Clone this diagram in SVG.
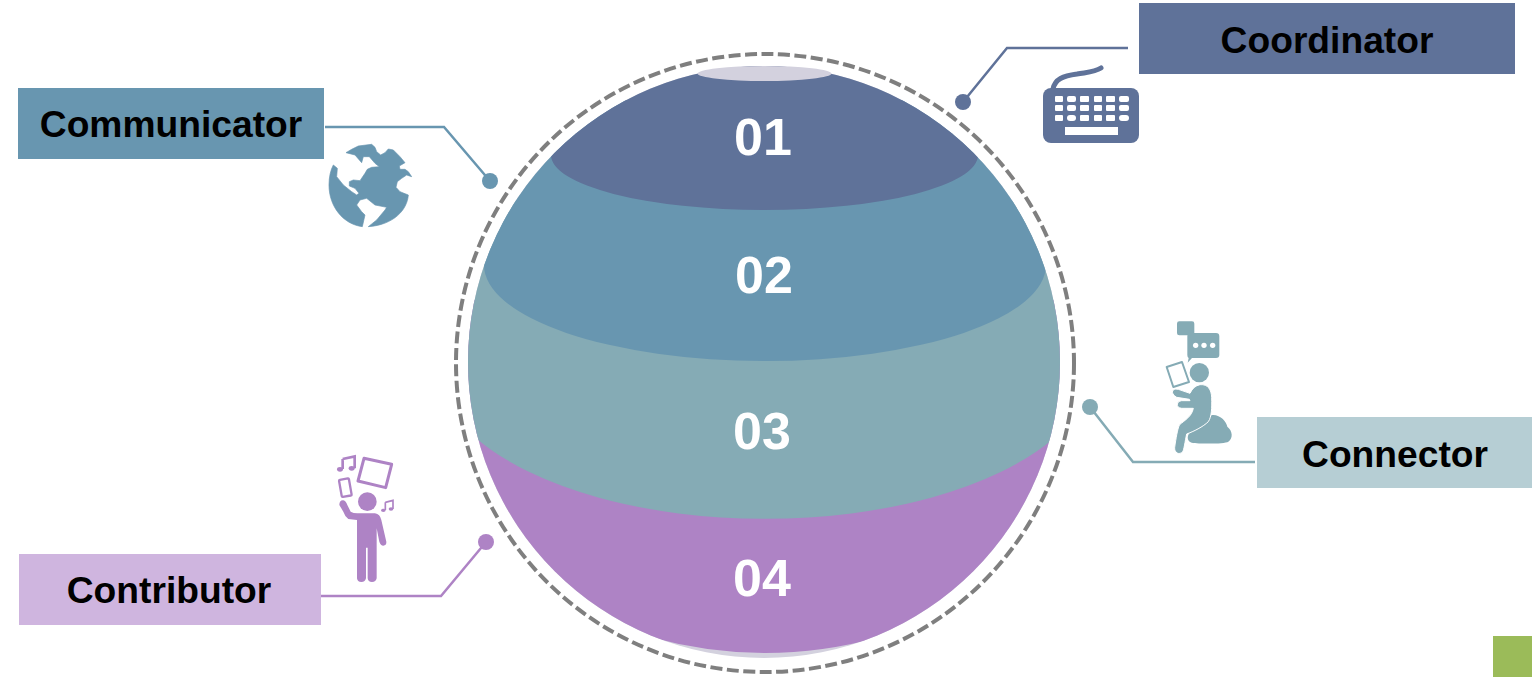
<svg xmlns="http://www.w3.org/2000/svg" width="1532" height="677" viewBox="0 0 1532 677">
<style>
.lbl{font-family:"Liberation Sans",Arial,sans-serif;font-weight:700;font-size:37.200px;fill:#000;text-anchor:middle}
.num{font-family:"Liberation Sans",Arial,sans-serif;font-weight:700;font-size:52px;fill:#fff;text-anchor:middle}
.ln{fill:none;stroke-width:2.500}
.navy{fill:#5f7299}.blue{fill:#6896b0}.teal{fill:#85abb5}.purple{fill:#ae83c5}
.w{fill:#fff}
</style>
<defs><clipPath id="sphere"><circle cx="764" cy="362" r="296"/></clipPath></defs>
<rect width="1532" height="677" fill="#fff"/>
<g id="sphere-body">
<circle cx="764" cy="362" r="296" fill="#d3d1de"/>
<g clip-path="url(#sphere)">
<path class="purple" d="M400,300H1100V637H880Q765,669 650,637H400Z"/>
<path class="teal" d="M400,200H1100V439H1053A330,156 0 0 1 477,439H400Z"/>
<path class="blue" d="M400,100H1100V265H1046A281,96 0 0 1 484,265H400Z"/>
<path class="navy" d="M540,40H990V155H978A213.500,55 0 0 1 551,155H540Z"/>
</g>
<ellipse cx="764.500" cy="73.500" rx="67" ry="7.500" fill="#d3d1de"/>
</g>
<circle id="ring" cx="765" cy="363" r="309" fill="none" stroke="#7f7f7f" stroke-width="4" stroke-dasharray="12 4.500"/>
<g id="connectors">
<path class="ln" stroke="#5f7299" d="M1128,48H1007L963,102"/><circle class="navy" cx="963" cy="102" r="8"/>
<path class="ln" stroke="#6896b0" d="M325,127H444L490,181"/><circle class="blue" cx="490" cy="181" r="8"/>
<path class="ln" stroke="#85abb5" d="M1090,407L1133,462H1255"/><circle class="teal" cx="1090" cy="407" r="8"/>
<path class="ln" stroke="#ae83c5" d="M486,542L441,596H321"/><circle class="purple" cx="486" cy="542" r="8"/>
</g>
<g id="layer-numbers">
<text class="num" x="763" y="155">01</text>
<text class="num" x="764" y="293">02</text>
<text class="num" x="762" y="449">03</text>
<text class="num" x="762" y="596">04</text>
</g>
<g id="coordinator">
<rect class="navy" x="1139" y="3" width="376" height="71"/>
<text class="lbl" x="1327" y="53">Coordinator</text>
<g id="keyboard-icon">
<path d="M1053,89C1055,79 1063,76 1077,74C1089,72 1095,72 1101,68" fill="none" stroke="#5f7299" stroke-width="5" stroke-linecap="round"/>
<rect class="navy" x="1043" y="88" width="96" height="55" rx="8"/>
<g class="w">
<rect x="1055" y="96" width="8" height="6" rx="1"/><rect x="1067" y="96" width="9" height="6" rx="2"/><rect x="1080" y="96" width="9" height="6" rx="1"/><rect x="1094" y="96" width="8" height="6" rx="1"/><rect x="1106" y="96" width="9" height="6" rx="1"/><rect x="1119" y="96" width="10" height="6" rx="2"/>
<rect x="1055" y="105" width="8" height="6" rx="1"/><rect x="1067" y="105" width="9" height="6" rx="2"/><rect x="1080" y="105" width="9" height="6" rx="1"/><rect x="1094" y="105" width="8" height="6" rx="1"/><rect x="1106" y="105" width="9" height="6" rx="1"/><rect x="1119" y="105" width="10" height="6" rx="2"/>
<rect x="1055" y="115" width="8" height="6" rx="1"/><rect x="1067" y="115" width="9" height="6" rx="3"/><rect x="1080" y="115" width="9" height="6" rx="1"/><rect x="1094" y="115" width="8" height="6" rx="1"/><rect x="1106" y="115" width="9" height="6" rx="1"/><rect x="1119" y="115" width="10" height="6" rx="3"/>
<rect x="1065" y="127" width="53" height="8"/>
</g>
</g>
</g>
<g id="communicator">
<rect class="blue" x="18" y="88" width="306" height="71"/>
<text class="lbl" x="171" y="137">Communicator</text>
<g id="globe-icon" transform="translate(310 110) scale(.3333)">
<path class="blue" stroke="#6896b0" stroke-width="2" stroke-linejoin="round" d="M108,128L125,118L145,108L185,103L195,112L200,125L212,135L225,128L235,117L250,120L270,140L285,158L268,168L270,178L285,178L295,185L305,200L290,195L275,205L262,215L258,232L270,245L282,250L295,255C292,300 250,345 175,350L200,330L225,300L230,292L195,285L170,265L150,270L140,285L155,305L165,315L157,350C100,343 57,290 57,225C57,200 62,180 70,165L82,175L80,200L100,225L125,245L140,255L147,250L135,235L118,228L118,215L130,210L150,212L165,190L172,178L185,172L208,170L195,160L178,140L160,140L155,158L135,135Z"/>
</g>
</g>
<g id="connector">
<rect x="1257" y="417" width="275" height="71" fill="#b6ced4"/>
<text class="lbl" x="1395" y="467">Connector</text>
<g id="connector-icon" transform="translate(1140 310) scale(.3333)">
<rect class="teal" x="111" y="34" width="52" height="42" rx="7"/>
<path class="teal" d="M148,74L168,88L160,72Z"/>
<path class="teal" d="M152,69H228Q238,69 238,79V135Q238,144 228,144H156L143,158L146,144Q142,142 142,135V79Q142,69 152,69Z"/>
<circle class="w" cx="167" cy="106" r="8"/><circle class="w" cx="192" cy="106" r="8"/><circle class="w" cx="218" cy="106" r="8"/>
<path d="M80,171L126,156L147,216L100,231Z" fill="none" stroke="#85abb5" stroke-width="6" stroke-linejoin="round"/>
<circle class="teal" cx="178" cy="188" r="29"/>
<path class="teal" d="M215,315C240,312 260,335 262,350C278,362 280,385 265,395C255,402 180,402 155,398C142,395 140,380 148,370C165,355 190,345 215,315Z"/>
<path class="teal" stroke="#fff" stroke-width="3" stroke-linejoin="round" d="M180,224C205,222 214,240 215,262C216,295 215,320 205,335C190,350 160,365 140,372C135,395 132,420 128,425C118,437 102,428 104,412C108,385 112,360 118,345C135,330 155,320 160,295H125Q110,293 112,282Q114,272 125,272L150,272L148,268L110,262Q94,252 98,242Q103,234 115,238L150,250Q160,228 180,224Z"/>
</g>
</g>
<g id="contributor">
<rect x="19" y="554" width="302" height="71" fill="#cfb5df"/>
<text class="lbl" x="169" y="603">Contributor</text>
<g id="contributor-icon" transform="translate(320 445) scale(.3333)">
<circle class="purple" cx="142" cy="170" r="28"/>
<path class="purple" d="M112,205H165Q180,207 184,225L199,290Q200,302 190,302Q182,302 178,290L170,250V400Q168,411 156,411Q144,411 143,400V308H138V400Q136,411 124,411Q112,411 111,400V225L85,222Q75,215 70,200L58,180Q58,165 70,166Q78,168 82,180L92,200Q100,205 112,205Z"/>
<path d="M132,40L215,58L197,128L114,108Z" fill="none" stroke="#ae83c5" stroke-width="9" stroke-linejoin="round"/>
<rect x="61" y="102" width="30" height="52" rx="3" transform="rotate(-10 76 128)" fill="none" stroke="#ae83c5" stroke-width="7"/>
<path d="M68,42L104,34V70M68,42V72" fill="none" stroke="#ae83c5" stroke-width="8"/>
<ellipse class="purple" cx="60" cy="73" rx="9" ry="7"/><ellipse class="purple" cx="95" cy="70" rx="9" ry="7"/>
<path d="M196,172L219,166V192M196,172V195" fill="none" stroke="#ae83c5" stroke-width="5"/>
<ellipse class="purple" cx="190" cy="196" rx="7" ry="5"/><ellipse class="purple" cx="213" cy="192" rx="7" ry="5"/>
</g>
</g>
<rect id="corner-mark" x="1493" y="636" width="39" height="41" fill="#9bbb59"/>
</svg>
